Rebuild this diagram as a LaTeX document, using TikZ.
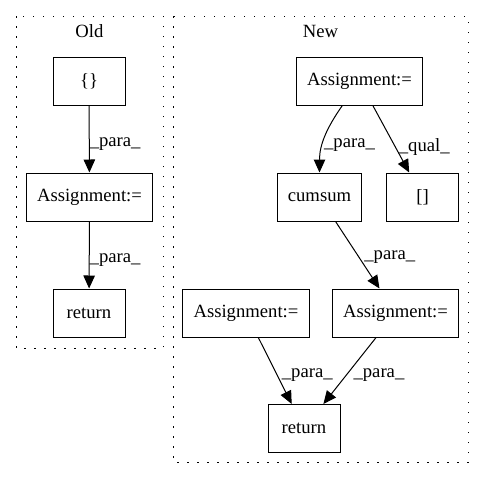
\documentclass[tikz,border=0pt]{standalone}
\usepackage{fontspec}
\setmainfont{Liberation Serif}
\usetikzlibrary{arrows.meta}
\tikzset{
  figfont/.style={font=\fontsize{18.67pt}{22pt}\selectfont},
  figbox/.style={draw, line width=1pt, inner xsep=10.7pt, inner ysep=0pt,
    minimum width=72pt, minimum height=48pt},
  figarrow/.style={-{Triangle[length=13pt,width=11.5pt]}, line width=1pt},
  figlabel/.style={anchor=west, inner sep=0pt},
  figcluster/.style={line width=1pt, dash pattern=on 1.5pt off 8.5pt},
}

\begin{document}
\begin{tikzpicture}[x=1pt,y=-1pt,figfont]
  \useasboundingbox (0,0) rectangle (485,480);

  % Clusters
  \draw[figcluster] (16,16) rectangle (163,348);
  \node (oldTitle) at (89.5,31.5) {Old};
  \draw[figcluster] (173,16) rectangle (468,462);
  \node (newTitle) at (320.5,31.5) {New};

  % Old
  \node[figbox] (oldBraces) at (89,81) {\{\}};
  \node[figbox] (oldAssign) at (89.5,197) {Assignment:=};
  \node[figbox] (oldReturn) at (89,313) {return};
  \draw[figarrow] (oldBraces) -- node[figlabel, pos=0.58] {\_para\_} (oldAssign);
  \draw[figarrow] (oldAssign) -- node[figlabel, pos=0.58] {\_para\_} (oldReturn);

  % New
  \node[figbox] (newAssignTop) at (359.5,81) {Assignment:=};
  \node[figbox] (newCumsum) at (319.5,197) {cumsum};
  \node[figbox] (newBrackets) at (422.5,197) {[]};
  \node[figbox] (newAssignLeft) at (246,313) {Assignment:=};
  \node[figbox] (newAssignRight) at (395.5,313) {Assignment:=};
  \node[figbox] (newReturn) at (304,428.5) {return};
  \draw[figarrow] (newAssignTop) to[out=-125,in=90]
    node[figlabel, pos=0.62, xshift=1pt] {\_para\_} (newCumsum);
  \draw[figarrow] (newAssignTop) --
    node[figlabel, pos=0.62, xshift=3pt] {\_qual\_} (newBrackets);
  \draw[figarrow] (newCumsum) --
    node[figlabel, pos=0.53, xshift=5pt] {\_para\_} (newAssignRight);
  \draw[figarrow] (newAssignLeft) --
    node[figlabel, pos=0.57, xshift=4pt] {\_para\_} (newReturn);
  \draw[figarrow] (newAssignRight) --
    node[figlabel, pos=0.57, xshift=7pt] {\_para\_} (newReturn);
\end{tikzpicture}
\end{document}
